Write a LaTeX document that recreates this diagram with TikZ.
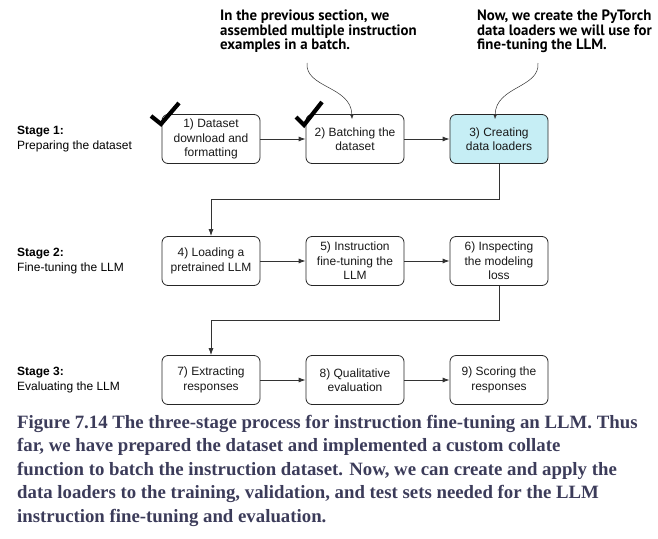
\documentclass[tikz,border=0pt]{standalone}
\usepackage{fontspec}
\usepackage{tikz}
\usetikzlibrary{arrows.meta}
\setmainfont{Liberation Sans}
\newfontfamily\capfont{Liberation Serif}
\newfontfamily\notefont[FakeStretch=0.99]{PT Sans}
\definecolor{loaderblue}{HTML}{C6EEF5}
\definecolor{captext}{HTML}{3C3C5A}

\begin{document}
\begin{tikzpicture}[x=1pt, y=-1pt,
		box_style/.style={rectangle,rounded corners=6pt,draw=black!85,line width=0.8pt,fill=white,
			minimum width=98pt,minimum height=49pt,align=center,inner sep=2pt,
			font=\fontsize{12}{14.5}\selectfont,text=black!90},
		box_style1/.style={box_style,fill=loaderblue},
		stage_style/.style={anchor=west,align=left,inner sep=0pt,font=\fontsize{12}{15}\selectfont},
		note_style/.style={anchor=north west,align=left,inner sep=0pt,
			font=\notefont\bfseries\fontsize{15}{14.5}\selectfont},
		edge_style/.style={draw=black!80,line width=0.8pt,-{Latex[length=7pt,width=5pt]}},
		note_edge/.style={draw=black!80,line width=0.5pt,-{Latex[length=5pt,width=4pt]}},
		check_style/.style={draw=black,line width=4.2pt,line join=miter}]

		\useasboundingbox (0,0) rectangle (658,538);

		% stage labels
		\node[stage_style] (s1) at (17,139) {\textbf{Stage 1:}\\Preparing the dataset};
		\node[stage_style] (s2) at (17,261) {\textbf{Stage 2:}\\Fine-tuning the LLM};
		\node[stage_style] (s3) at (17,380) {\textbf{Stage 3:}\\Evaluating the LLM};

		% boxes
		\node[box_style] (n1) at (211,139) {1) Dataset\\download and\\formatting};
		\node[box_style] (n2) at (355,139) {2) Batching the\\dataset};
		\node[box_style1] (n3) at (499,139) {3) Creating\\data loaders};
		\node[box_style] (n4) at (211,261) {4) Loading a\\pretrained LLM};
		\node[box_style] (n5) at (355,261) {5) Instruction\\fine-tuning the\\LLM};
		\node[box_style] (n6) at (499,261) {6) Inspecting\\the modeling\\loss};
		\node[box_style] (n7) at (211,380) {7) Extracting\\responses};
		\node[box_style] (n8) at (355,380) {8) Qualitative\\evaluation};
		\node[box_style] (n9) at (499,380) {9) Scoring the\\responses};

		\draw[edge_style] (n1) -- (n2);
		\draw[edge_style] (n2) -- (n3);
		\draw[edge_style] (n3.south) -- ++(0,35) -| (n4.north);
		\draw[edge_style] (n4) -- (n5);
		\draw[edge_style] (n5) -- (n6);
		\draw[edge_style] (n6.south) -- ++(0,34) -| (n7.north);
		\draw[edge_style] (n7) -- (n8);
		\draw[edge_style] (n8) -- (n9);

		% check marks
		\draw[check_style] (151,116) -- (161,124) -- (179,103);
		\draw[check_style] (296,117) -- (304,125) -- (322,102);

		% notes
		\node[note_style] (t1) at (220,10) {In the previous section, we\\assembled multiple instruction\\examples in a batch.};
		\node[note_style] (t2) at (477,10) {Now, we create the PyTorch\\data loaders we will use for\\fine-tuning the LLM.};
		\coordinate (c1) at (307,63);
		\coordinate (c2) at (538,63);
		\draw[note_edge] (c1) .. controls (305,88) and (351,86) .. ([xshift=-3pt,yshift=-5pt]n2.north);
		\draw[note_edge] (c2) .. controls (540,88) and (496,86) .. ([xshift=-4pt,yshift=-5pt]n3.north);

		% caption
		\node[anchor=north west,align=left,inner sep=0pt,text=captext,
			font=\capfont\bfseries\fontsize{18.8}{23.5}\selectfont] (cap) at (17,415)
			{Figure 7.14 The three-stage process for instruction fine-tuning an LLM. Thus\\
			far, we have prepared the dataset and implemented a custom collate\\
			function to batch the instruction dataset. Now, we can create and apply the\\
			data loaders to the training, validation, and test sets needed for the LLM\\
			instruction fine-tuning and evaluation.};

\end{tikzpicture}
\end{document}
